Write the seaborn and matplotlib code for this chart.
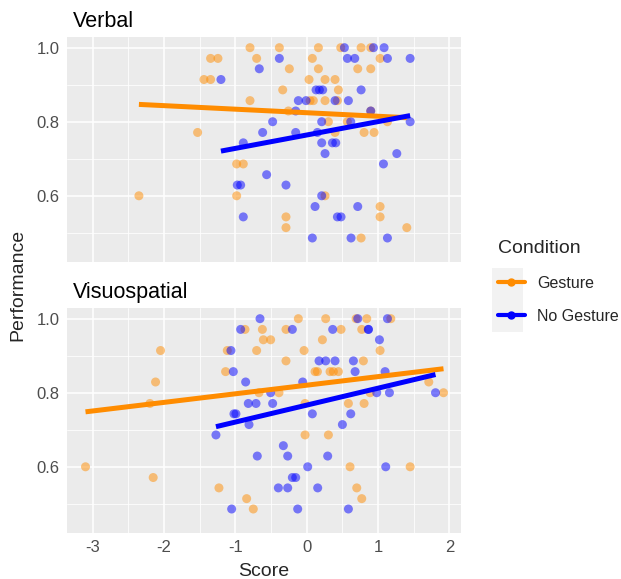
import matplotlib
matplotlib.use("Agg")
import matplotlib.pyplot as plt
import seaborn as sns
import pandas as pd
from matplotlib.lines import Line2D
from matplotlib.patches import Rectangle

# values
verbal_gesture_score = [-0.794, -0.383, 0.164, 0.477, 0.762, 0.897,
                        -1.346, -1.243, -0.701, 0.079, 1.028,
                        -0.243, 0.164, 0.715, 0.897,
                        -1.439, -1.346, 0.033, 0.257, 0.397,
                        -0.336, 0.444,
                        -0.794, 0.047, 0.093, 0.257, 0.430,
                        -0.257, 0.897,
                        0.304, 0.570, 1.131,
                        -1.528, 0.397, 0.804, 0.944,
                        -0.981, -0.888,
                        -2.350, -0.981, 0.257,
                        1.028,
                        -0.290, 1.028,
                        -0.290, 1.402,
                        0.762]
verbal_gesture_perf = [1.0] * 6 + [0.971] * 5 + [0.943] * 4 + [0.914] * 5 + [0.886] * 2 + \
                      [0.857] * 5 + [0.829] * 2 + [0.8] * 3 + [0.771] * 4 + [0.686] * 2 + \
                      [0.6] * 3 + [0.571] + [0.543] * 2 + [0.514] * 2 + [0.486]

verbal_nogesture_score = [0.528, 0.935, 1.084,
                          -0.383, 0.570, 0.673, 1.131, 1.449,
                          -0.664,
                          -1.201,
                          0.131, 0.178, 0.224, 0.762,
                          -0.117, -0.009, 0.397, 0.584,
                          -0.154, 0.897,
                          -0.477, 0.210, 0.617, 1.449,
                          -0.617, -0.154, 0.150,
                          -0.888, 0.210, 0.360, 0.407,
                          0.257, 1.262,
                          1.075,
                          -0.561,
                          -0.972, -0.925, -0.290,
                          0.210,
                          0.117, 0.715,
                          -0.888, 0.430, 0.481,
                          0.079, 0.621, 1.131]
verbal_nogesture_perf = [1.0] * 3 + [0.971] * 5 + [0.943] + [0.914] + [0.886] * 4 + \
                        [0.857] * 4 + [0.829] * 2 + [0.8] * 4 + [0.771] * 3 + [0.743] * 4 + \
                        [0.714] * 2 + [0.686] + [0.657] + [0.629] * 3 + [0.6] + \
                        [0.571] * 2 + [0.543] * 3 + [0.486] * 3

visuo_gesture_score = [-0.117, 0.266, 0.692, 0.841, 1.178,
                       -0.864, -0.621, -0.290, 0.481, 0.771,
                       -0.607, -0.505, 0.220,
                       -2.047, -1.112, -0.701, -0.037, 1.028,
                       -0.290, 0.794,
                       -1.136, 0.117, 0.150, 0.327, 0.374, 0.444,
                       -2.117, 1.710,
                       -0.668, -0.388, 0.888, 1.916,
                       -2.196, -0.023, 0.584, 0.804,
                       -0.023, 0.304,
                       -3.098, 0.607, 1.449,
                       -2.150,
                       -1.229, 0.701,
                       -0.841, 0.771,
                       -0.748]
visuo_gesture_perf = [1.0] * 5 + [0.971] * 5 + [0.943] * 3 + [0.914] * 5 + [0.886] * 2 + \
                     [0.857] * 6 + [0.829] * 2 + [0.8] * 4 + [0.771] * 4 + [0.686] * 2 + \
                     [0.6] * 3 + [0.571] + [0.543] * 2 + [0.514] * 2 + [0.486]

visuo_nogesture_score = [-0.654, 0.715, 1.131,
                         -0.925, -0.201, 0.364, 0.864, 0.864,
                         1.019,
                         -1.061,
                         0.173, 0.266, 0.397, 0.654,
                         -1.028, 0.678, 1.098,
                         -0.855, -0.056,
                         -0.505, 0.981, 1.159, 1.804,
                         -0.818, -0.710, -0.477,
                         -1.019, -0.991, 0.079, 0.617,
                         -0.808, 0.500,
                         -1.271,
                         -0.327,
                         -0.692, -0.266, 0.294,
                         0.014, 1.107,
                         -0.201, -0.154,
                         -0.397, -0.266, 0.154,
                         -1.051, -0.126, 0.584]
visuo_nogesture_perf = [1.0] * 3 + [0.971] * 5 + [0.943] + [0.914] + [0.886] * 4 + \
                       [0.857] * 3 + [0.829] * 2 + [0.8] * 4 + [0.771] * 3 + [0.743] * 4 + \
                       [0.714] * 2 + [0.686] + [0.657] + [0.629] * 3 + [0.6] * 2 + \
                       [0.571] * 2 + [0.543] * 3 + [0.486] * 3

conditions = ["Gesture", "No Gesture"]
colors = {"Gesture": "#FF8C00", "No Gesture": "#0000FF"}

x_ticks = [-3, -2, -1, 0, 1, 2]
x_minor = [-2.5, -1.5, -0.5, 0.5, 1.5]
y_ticks = [0.6, 0.8, 1.0]
y_minor = [0.5, 0.7, 0.9]

panels = [
    ("Verbal", {"Gesture": (verbal_gesture_score, verbal_gesture_perf),
                "No Gesture": (verbal_nogesture_score, verbal_nogesture_perf)}),
    ("Visuospatial", {"Gesture": (visuo_gesture_score, visuo_gesture_perf),
                      "No Gesture": (visuo_nogesture_score, visuo_nogesture_perf)}),
]

sns.set_theme(style="darkgrid", rc={
    "axes.facecolor": "#EBEBEB",
    "grid.color": "white",
    "axes.edgecolor": "#EBEBEB",
})
plt.rcParams["font.family"] = ["Liberation Sans", "DejaVu Sans"]

W, H = 621, 579
fig = plt.figure(figsize=(W / 100, H / 100), dpi=100)

left, right = 67.3, 460.7
tops = [37.3, 308.3]
ph = 224.4

for i, (name, groups) in enumerate(panels):
    ax = fig.add_axes([left / W, 1 - (tops[i] + ph) / H, (right - left) / W, ph / H])
    rows = []
    for cond in conditions:
        xs, ys = groups[cond]
        rows.append(pd.DataFrame({"Score": xs, "Performance": ys, "Condition": cond}))
    df = pd.concat(rows, ignore_index=True)

    sns.scatterplot(data=df, x="Score", y="Performance", hue="Condition",
                    palette=colors, alpha=0.5, s=42, linewidth=0, legend=False, ax=ax)
    for cond in conditions:
        sub = df[df["Condition"] == cond]
        sns.regplot(data=sub, x="Score", y="Performance", scatter=False, ci=None,
                    color=colors[cond], line_kws={"lw": 3.6, "solid_capstyle": "butt"}, ax=ax)

    ax.set_xlim(-3.353, 2.157)
    ax.set_ylim(0.422, 1.028)
    ax.set_xticks(x_ticks, [str(t) for t in x_ticks])
    ax.set_xticks(x_minor, minor=True)
    ax.set_yticks(y_ticks, [f"{t:.1f}" for t in y_ticks])
    ax.set_yticks(y_minor, minor=True)
    ax.grid(which="major", color="white", lw=1.1)
    ax.grid(which="minor", color="white", lw=0.55)
    for s in ax.spines.values():
        s.set_visible(False)
    ax.tick_params(axis="both", which="major", length=3.5, width=0.9, color="#333333",
                   labelsize=12, labelcolor="#4D4D4D", pad=2)
    ax.tick_params(axis="both", which="minor", length=0)
    ax.set_xlabel("")
    ax.set_ylabel("")
    if i == 0:
        ax.tick_params(axis="x", which="major", length=0, labelbottom=False)
    fig.text(73 / W, 1 - (tops[i] - 10.5) / H, name, fontsize=15.5, color="black",
             ha="left", va="baseline")

fig.text(18 / W, 1 - 285 / H, "Performance", rotation=90, fontsize=14,
         ha="center", va="center")
fig.text(264 / W, 1 - 576 / H, "Score", fontsize=14, ha="center", va="baseline")

# legend
fig.patches.append(Rectangle((491.7 / W, 1 - 331.7 / H), 31.6 / W, 63.4 / H,
                             transform=fig.transFigure, facecolor="#F2F2F2",
                             edgecolor="none", zorder=0))
handles = [Line2D([], [], color=colors[c], lw=3, marker="o", ms=5) for c in conditions]
leg = fig.legend(handles, conditions, loc="upper left", bbox_to_anchor=(487 / W, 1 - 229 / H),
                 frameon=False, fontsize=11.5, title="Condition", title_fontsize=14,
                 handlelength=1.65, handletextpad=0.8, labelspacing=1.15,
                 alignment="left", borderpad=0.2)

fig.savefig("out.png", dpi=100)
